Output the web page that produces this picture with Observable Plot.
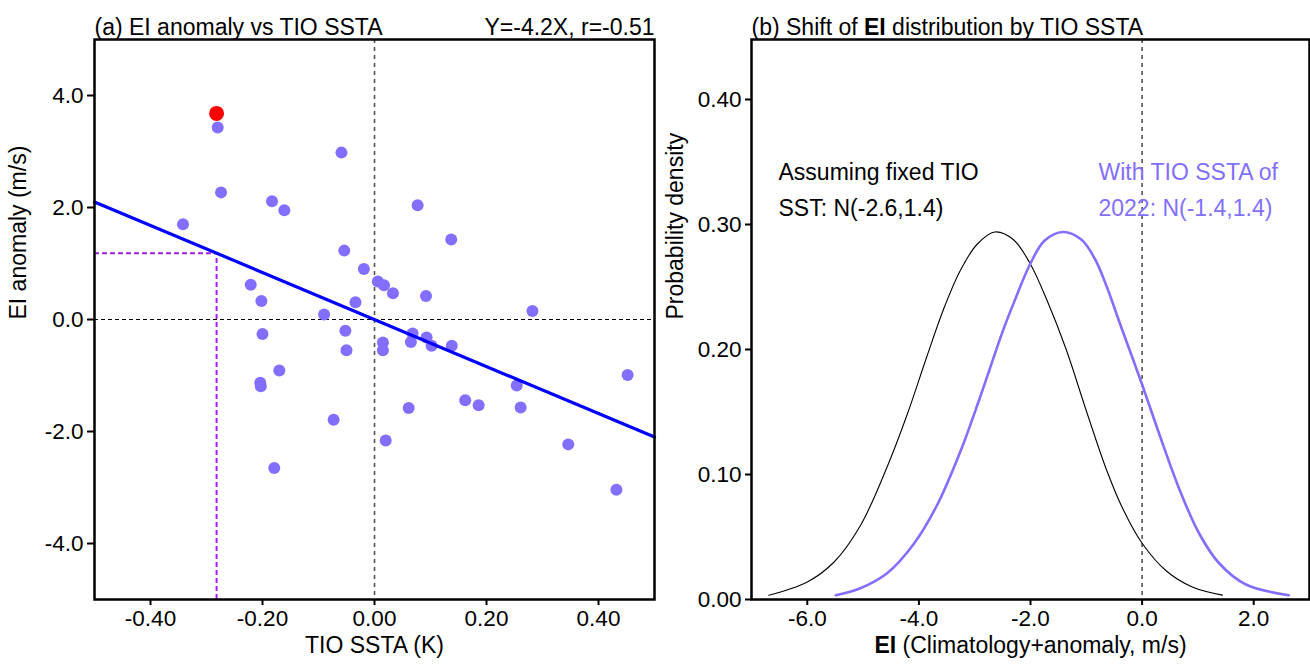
<!DOCTYPE html>
<html><head><meta charset="utf-8">
<script src="https://cdn.jsdelivr.net/npm/d3@7"></script>
<script src="https://cdn.jsdelivr.net/npm/@observablehq/plot@0.6"></script>
<style>
body{margin:0;background:#fff;}
#wrap{position:relative;width:1310px;height:666px;overflow:hidden;background:#fff;}
#wrap svg{position:absolute;top:0;}
</style></head><body><div id="wrap"></div>
<script>
// ---------- Panel (a) data ----------
const tioSSTA = [-0.280,-0.059,-0.274,-0.183,-0.161,-0.342,-0.054,-0.019,0.006,0.017,-0.221,-0.202,-0.034,-0.090,0.077,0.137,0.033,0.092,0.282,-0.200,-0.052,-0.050,-0.170,-0.204,-0.203,-0.073,-0.179,0.015,0.015,0.068,0.065,0.093,0.102,0.138,0.452,0.254,0.162,0.186,0.261,0.061,0.020,0.346,0.432];
const eiAnomaly = [3.43,2.98,2.27,2.11,1.95,1.70,1.23,0.90,0.68,0.61,0.62,0.33,0.31,0.09,2.04,1.43,0.47,0.42,0.15,-0.26,-0.20,-0.55,-0.91,-1.13,-1.19,-1.79,-2.65,-0.41,-0.55,-0.25,-0.40,-0.32,-0.47,-0.47,-0.99,-1.18,-1.44,-1.53,-1.57,-1.58,-2.16,-2.23,-3.04];
const tio2022 = -0.282;
const ei2022 = 3.68;
const regSlope = -4.2;
const regR = -0.51;
const xTicksA = [-0.4,-0.2,0,0.2,0.4];
const yTicksA = [-4,-2,0,2,4];
const xDomainA = [-0.5,0.5];
const yDomainA = [-5,5];

// ---------- Panel (b) data ----------
const eiFixedX = [-6.69,-6.0,-5.52,-5.05,-4.57,-4.21,-3.86,-3.56,-3.26,-2.96,-2.64,-2.31,-2.01,-1.71,-1.36,-1.0,-0.64,-0.35,0.0,0.43,0.90,1.44];
const pdfFixed = [0.0034,0.014,0.030,0.059,0.106,0.148,0.194,0.232,0.263,0.284,0.294,0.288,0.269,0.240,0.200,0.151,0.104,0.073,0.045,0.023,0.010,0.0035];
const ei2022X = [-5.49,-5.05,-4.57,-4.10,-3.68,-3.26,-2.91,-2.49,-2.28,-2.01,-1.75,-1.42,-1.09,-0.84,-0.64,-0.375,0.0,0.31,0.67,1.02,1.38,1.86,2.63];
const pdf2022 = [0.0034,0.009,0.021,0.044,0.075,0.118,0.161,0.2155,0.2395,0.268,0.287,0.294,0.288,0.272,0.251,0.218,0.172,0.132,0.088,0.053,0.029,0.012,0.0034];
const xTicksB = [-6,-4,-2,0,2];
const yTicksB = [0,0.1,0.2,0.3,0.4];
const xDomainB = [-7,3];
const yDomainB = [0,0.448];
const fixedLabel = ["Assuming fixed TIO","SST: N(-2.6,1.4)"];
const label2022 = ["With TIO SSTA of","2022: N(-1.4,1.4)"];

// ---------- styles ----------
const FONT = "'Liberation Sans', Arial, Helvetica, sans-serif";
const ptColor = "#836fff";
const tickFS = 22.5;
const labFS = 23;

const points = tioSSTA.map((x,i)=>({x, y: eiAnomaly[i]}));
const regLine = xDomainA.map(x=>({x, y: regSlope*x}));
const pred2022 = regSlope*tio2022;
const fixedCurve = eiFixedX.map((x,i)=>({x, y: pdfFixed[i]}));
const curve2022 = ei2022X.map((x,i)=>({x, y: pdf2022[i]}));
const id = d => d;

const A = Plot.plot({
  width: 660, height: 666,
  marginLeft: 94, marginRight: 6, marginTop: 39, marginBottom: 67,
  style: {fontFamily: FONT, color: "#000", background: "transparent", overflow: "visible"},
  x: {domain: xDomainA},
  y: {domain: yDomainA},
  marks: [
    Plot.ruleX([0], {stroke: "#555", strokeDasharray: "4,4", strokeWidth: 1.6}),
    Plot.ruleY([0], {stroke: "#000", strokeDasharray: "4,3", strokeWidth: 1}),
    Plot.ruleY([pred2022], {x1: xDomainA[0], x2: tio2022, stroke: "#a020f0", strokeDasharray: "5,3", strokeWidth: 2}),
    Plot.ruleX([tio2022], {y1: yDomainA[0], y2: pred2022, stroke: "#a020f0", strokeDasharray: "5,3", strokeWidth: 2}),
    Plot.dot(points, {x: "x", y: "y", r: 6, fill: ptColor, stroke: null}),
    Plot.line(regLine, {x: "x", y: "y", stroke: "#0000ff", strokeWidth: 3.2}),
    Plot.dot([{x: tio2022, y: ei2022}], {x: "x", y: "y", r: 7.5, fill: "#ff0000"}),
    Plot.frame({stroke: "#000", strokeWidth: 2.5}),
    Plot.axisX({ticks: xTicksA, tickFormat: d => d.toFixed(2), tickSize: 6, tickPadding: 5, fontSize: tickFS, label: null, strokeWidth: 2}),
    Plot.axisY({ticks: yTicksA, tickFormat: d => d.toFixed(1), tickSize: 7, tickPadding: 4, fontSize: tickFS, label: null, strokeWidth: 2}),
    Plot.text(["(a) EI anomaly vs TIO SSTA"], {text: id, frameAnchor: "top-left", textAnchor: "start", dy: -21, fontSize: labFS}),
    Plot.text([`Y=${regSlope}X, r=${regR}`], {text: id, frameAnchor: "top-right", textAnchor: "end", dy: -21, fontSize: labFS}),
    Plot.text(["TIO SSTA (K)"], {text: id, frameAnchor: "bottom", dy: 53, fontSize: labFS}),
    Plot.text(["EI anomaly (m/s)"], {text: id, frameAnchor: "left", dx: -76, rotate: -90, fontSize: labFS})
  ]
});
A.style.left = "0px";

const B = Plot.plot({
  width: 650, height: 666,
  marginLeft: 91, marginRight: 1, marginTop: 39, marginBottom: 67,
  style: {fontFamily: FONT, color: "#000", background: "transparent", overflow: "visible"},
  x: {domain: xDomainB},
  y: {domain: yDomainB},
  marks: [
    Plot.ruleX([0], {stroke: "#555", strokeDasharray: "4,4", strokeWidth: 1.6}),
    Plot.line(fixedCurve, {x: "x", y: "y", stroke: "#000", strokeWidth: 1.1, curve: "catmull-rom"}),
    Plot.line(curve2022, {x: "x", y: "y", stroke: ptColor, strokeWidth: 2.6, curve: "catmull-rom"}),
    Plot.text([fixedLabel[0]], {text: id, frameAnchor: "top-left", textAnchor: "start", dx: 27, dy: 124, fontSize: labFS, fill: "#000"}),
    Plot.text([fixedLabel[1]], {text: id, frameAnchor: "top-left", textAnchor: "start", dx: 27, dy: 160, fontSize: labFS, fill: "#000"}),
    Plot.text([label2022[0]], {text: id, frameAnchor: "top-left", textAnchor: "start", dx: 347, dy: 124, fontSize: labFS, fill: ptColor}),
    Plot.text([label2022[1]], {text: id, frameAnchor: "top-left", textAnchor: "start", dx: 347, dy: 160, fontSize: labFS, fill: ptColor}),
    Plot.frame({stroke: "#000", strokeWidth: 2.5}),
    Plot.axisX({ticks: xTicksB, tickFormat: d => d.toFixed(1), tickSize: 6, tickPadding: 5, fontSize: tickFS, label: null, strokeWidth: 2}),
    Plot.axisY({ticks: yTicksB, tickFormat: d => d.toFixed(2), tickSize: 6, tickPadding: 4, fontSize: tickFS, label: null, strokeWidth: 2}),
    Plot.text(["(b) Shift of EI distribution by TIO SSTA"], {text: id, frameAnchor: "top-left", textAnchor: "start", dy: -21, fontSize: labFS}),
    Plot.text(["EI (Climatology+anomaly, m/s)"], {text: id, frameAnchor: "bottom", dy: 53, fontSize: labFS}),
    Plot.text(["Probability density"], {text: id, frameAnchor: "left", dx: -76, rotate: -90, fontSize: labFS})
  ]
});
B.style.left = "660px";

const wrap = document.getElementById("wrap");
wrap.appendChild(A);
wrap.appendChild(B);

// bold "EI" in panel (b) texts
B.querySelectorAll("text").forEach(t => {
  const s = t.textContent;
  if (s.startsWith("(b) Shift of EI") || s.startsWith("EI (Climatology")) {
    const i = s.indexOf("EI");
    const before = s.slice(0, i), after = s.slice(i + 2);
    while (t.firstChild) t.removeChild(t.firstChild);
    const ns = "http://www.w3.org/2000/svg";
    if (before) t.appendChild(document.createTextNode(before));
    const b = document.createElementNS(ns, "tspan");
    b.setAttribute("font-weight", "bold");
    b.textContent = "EI";
    t.appendChild(b);
    t.appendChild(document.createTextNode(after));
  }
});
</script>
</body></html>
